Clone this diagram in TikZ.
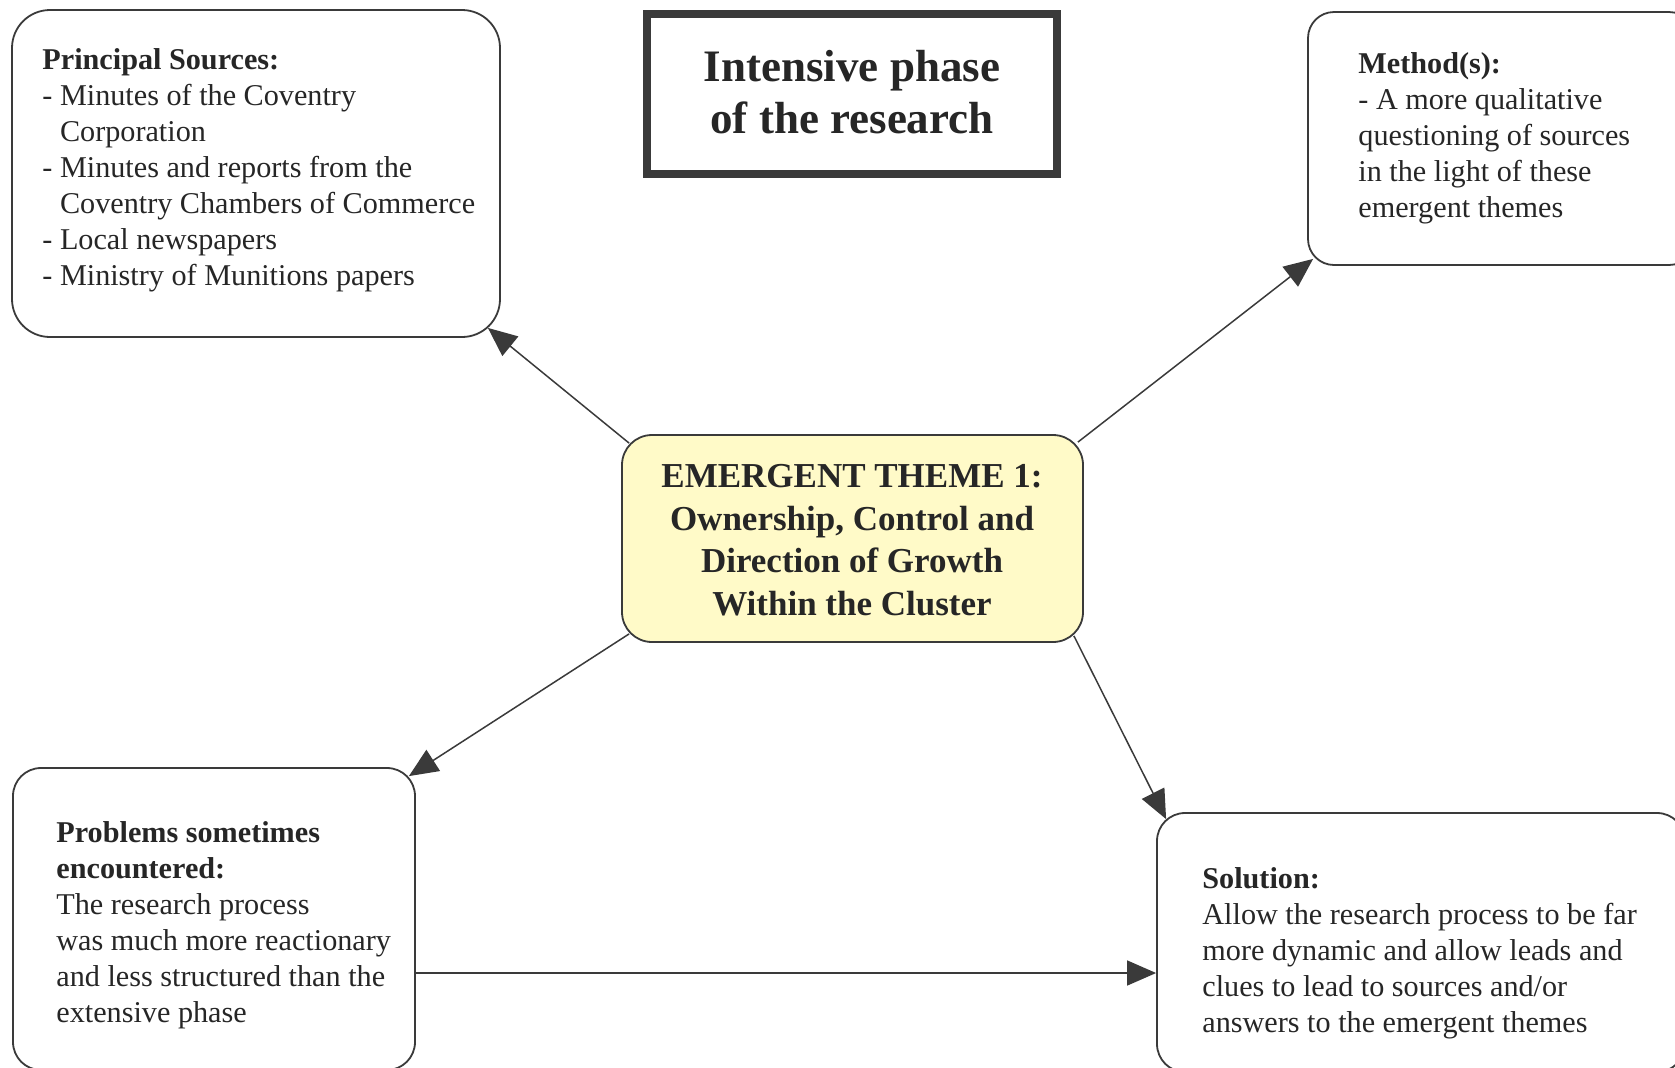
\documentclass[tikz,border=0pt]{standalone}
\usepackage{fontspec}
\setmainfont{Liberation Serif}
\usetikzlibrary{arrows.meta,calc}

\definecolor{ink}{HTML}{262626}
\definecolor{edge}{HTML}{3A3A3A}
\definecolor{themefill}{RGB}{255,250,200}

\tikzset{
  box/.style={draw=edge, line width=0.9pt, rectangle, inner sep=0pt, fill=white},
  bodytext/.style={inner sep=0pt, align=left, text=ink, font=\fontsize{15.1}{18}\selectfont},
  link/.style={draw=edge, line width=0.75pt, -{Triangle[length=14.5pt,width=12.5pt]}},
}

\begin{document}
\begin{tikzpicture}[x=0.5pt,y=-0.5pt]
\useasboundingbox (0,0) rectangle (1675,1067);
\clip (0,0) rectangle (1675,1067);

% boxes
\node[box, rounded corners=19pt, minimum width=244pt, minimum height=163.5pt] (ps) at (256,173.5) {};
\node[draw=edge, line width=4pt, rectangle, inner sep=0pt, minimum width=205pt, minimum height=80pt] (title) at (852,94) {};
\node[box, rounded corners=13pt, minimum width=193.5pt, minimum height=126.5pt] (meth) at (1501.5,138.5) {};
\node[box, fill=themefill, rounded corners=15pt, minimum width=230.5pt, minimum height=103.5pt] (ctr) at (852.5,538.5) {};
\node[box, rounded corners=14pt, minimum width=201pt, minimum height=151pt] (prob) at (214,919) {};
\node[box, rounded corners=14pt, minimum width=264pt, minimum height=129.5pt] (sol) at (1421,942.5) {};

% texts (the base anchor of a multi-line node sits on its last line)
\node[bodytext, anchor=base west] (pstext) at (42,285)
  {\textbf{Principal Sources:}\\
   - Minutes of the Coventry\\
   \phantom{- }Corporation\\
   - Minutes and reports from the\\
   \phantom{- }Coventry Chambers of Commerce\\
   - Local newspapers\\
   - Ministry of Munitions papers};

\node[inner sep=0pt, align=center, text=ink, font=\bfseries\fontsize{22.5}{26}\selectfont, anchor=base] (titletext) at (852,133)
  {Intensive phase\\of the research};

\node[bodytext, anchor=base west] (methtext) at (1358,217)
  {\textbf{Method(s):}\\
   - A more qualitative\\
   questioning of sources\\
   in the light of these\\
   emergent themes};

\node[inner sep=0pt, align=center, text=ink, font=\bfseries\fontsize{17.5}{21.2}\selectfont, anchor=base] (ctrtext) at (852,615)
  {EMERGENT THEME 1:\\Ownership, Control and\\Direction of Growth\\Within the Cluster};

\node[bodytext, anchor=base west] (probtext) at (56,1022)
  {\textbf{Problems sometimes}\\
   \textbf{encountered:}\\
   The research process\\
   was much more reactionary\\
   and less structured than the\\
   extensive phase};

\node[bodytext, anchor=base west] (soltext) at (1202,1032)
  {\textbf{Solution:}\\
   Allow the research process to be far\\
   more dynamic and allow leads and\\
   clues to lead to sources and/or\\
   answers to the emergent themes};

% connector end points on the rounded corners
\coordinate (c1a) at ($(ctr.north west)+(8,9)$);
\coordinate (c1b) at ($(ps.south east)+(-13,-10)$);
\coordinate (c2a) at ($(ctr.north east)+(-6,8)$);
\coordinate (c2b) at ($(meth.south west)+(6,-7)$);
\coordinate (c3a) at ($(ctr.south west)+(8,-9)$);
\coordinate (c3b) at ($(prob.north east)+(-7,9)$);
\coordinate (c4a) at ($(ctr.south east)+(-10,-7)$);
\coordinate (c4b) at ($(sol.north west)+(10,7)$);
\coordinate (row) at (0,973);

% connectors
\draw[link] (c1a) -- (c1b);
\draw[link] (c2a) -- (c2b);
\draw[link] (c3a) -- (c3b);
\draw[link] (c4a) -- (c4b);
\draw[link] (prob.east |- row) -- (sol.west |- row);
\end{tikzpicture}
\end{document}
